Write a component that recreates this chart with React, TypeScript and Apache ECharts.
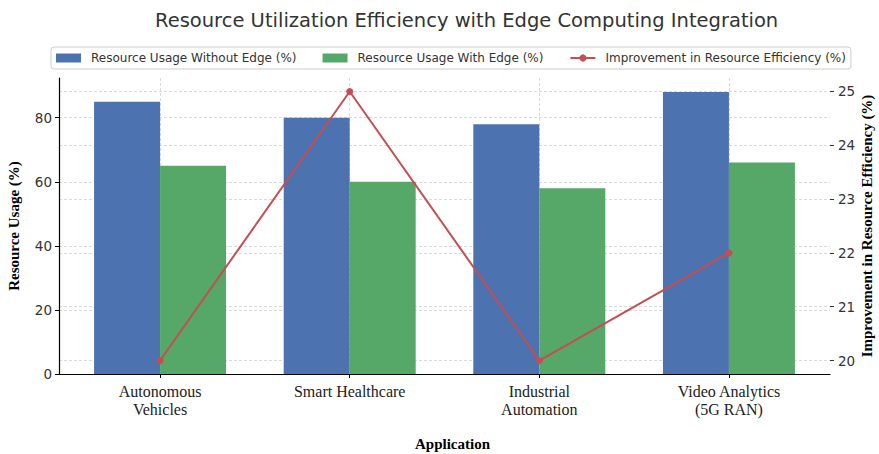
import React, { useEffect, useRef } from "react";
import * as echarts from "echarts";

const categories = ["Autonomous\nVehicles", "Smart Healthcare", "Industrial\nAutomation", "Video Analytics\n(5G RAN)"];
const usageWithoutEdge = [85, 80, 78, 88];
const usageWithEdge = [65, 60, 58, 66];
const improvement = [20, 25, 20, 22];
const leftTicks = [0, 20, 40, 60, 80];
const rightTicks = [20, 21, 22, 23, 24, 25];
const catIdx = [0, 1, 2, 3];

const SANS = "DejaVu Sans";
const SERIF = "Liberation Serif";

export default function App() {
  const ref = useRef<HTMLDivElement>(null);
  useEffect(() => {
    document.body.style.margin = "0";
    if (!ref.current) return;
    const chart = echarts.init(ref.current, null, { renderer: "svg" });
    const grid = { lineStyle: { color: "#cfcfcf", type: [3, 2] as any, width: 0.8 } };
    chart.setOption({
      animation: false,
      backgroundColor: "#ffffff",
      title: {
        text: "Resource Utilization Efficiency with Edge Computing Integration",
        left: 150,
        top: 5,
        textStyle: { fontFamily: SANS, fontSize: 19.5, fontWeight: "normal", color: "#333" },
      },
      legend: {
        left: 51,
        top: 47,
        itemWidth: 25,
        itemHeight: 9,
        itemGap: 26,
        padding: [5, 5],
        borderColor: "#cccccc",
        borderWidth: 1,
        borderRadius: 3,
        textStyle: { fontFamily: SANS, fontSize: 12, color: "#333", padding: [0, 0, 0, 5] },
        data: [
          { name: "Resource Usage Without Edge (%)", icon: "rect" },
          { name: "Resource Usage With Edge (%)", icon: "rect" },
          { name: "Improvement in Resource Efficiency (%)" },
        ],
      },
      grid: { left: 59, right: 49, top: 78, bottom: 80, containLabel: false, outerBoundsMode: "none" },
      xAxis: {
        type: "value",
        min: -0.533,
        max: 3.533,
        name: "Application",
        nameLocation: "middle",
        nameGap: 62,
        nameMoveOverlap: false,
        nameTextStyle: { fontFamily: SERIF, fontSize: 15, fontWeight: "bold", color: "#000", padding: [0, 0, 0, 16] },
        axisLine: { show: true, onZero: false, lineStyle: { color: "#000", width: 1.2 } },
        axisTick: { show: true, customValues: catIdx, length: 4, lineStyle: { color: "#000" } },
        axisLabel: {
          customValues: catIdx,
          formatter: (v: number) => categories[Math.round(v)],
          fontFamily: SERIF,
          fontSize: 16,
          lineHeight: 18,
          color: "#222",
          margin: 8,
        },
        splitLine: { show: true, ...grid },
      },
      yAxis: [
        {
          type: "value",
          min: 0,
          max: 92.4,
          name: "Resource Usage (%)",
          nameLocation: "middle",
          nameGap: 38,
          nameRotate: 90,
          nameMoveOverlap: false,
          nameTextStyle: { fontFamily: SERIF, fontSize: 15, fontWeight: "bold", color: "#000" },
          axisLine: { show: true, onZero: false, lineStyle: { color: "#000", width: 1.2 } },
          axisTick: { show: true, customValues: leftTicks, length: 4, lineStyle: { color: "#000" } },
          axisLabel: { customValues: leftTicks, fontFamily: SANS, fontSize: 13.5, color: "#333", margin: 7 },
          splitLine: { show: true, ...grid },
        },
        {
          type: "value",
          min: 19.75,
          max: 25.25,
          position: "right",
          name: "Improvement in Resource Efficiency (%)",
          nameLocation: "middle",
          nameGap: 29,
          nameRotate: 90,
          nameMoveOverlap: false,
          nameTextStyle: { fontFamily: SERIF, fontSize: 15, fontWeight: "bold", color: "#000" },
          axisLine: { show: false, onZero: false },
          axisTick: { show: true, customValues: rightTicks, length: 4, lineStyle: { color: "#333" } },
          axisLabel: { customValues: rightTicks, fontFamily: SANS, fontSize: 13.5, color: "#333", margin: 8 },
          splitLine: { show: true, ...grid },
        },
      ],
      series: [
        {
          name: "Resource Usage Without Edge (%)",
          type: "bar",
          xAxisIndex: 0,
          yAxisIndex: 0,
          barWidth: 66,
          barGap: "0%",
          itemStyle: { color: "#4c72b0" },
          data: usageWithoutEdge.map((v, i) => [i, v]),
        },
        {
          name: "Resource Usage With Edge (%)",
          type: "bar",
          xAxisIndex: 0,
          yAxisIndex: 0,
          barWidth: 66,
          barGap: "0%",
          itemStyle: { color: "#55a868" },
          data: usageWithEdge.map((v, i) => [i, v]),
        },
        {
          name: "Improvement in Resource Efficiency (%)",
          type: "line",
          xAxisIndex: 0,
          yAxisIndex: 1,
          symbol: "circle",
          symbolSize: 7,
          lineStyle: { color: "#c44e52", width: 2 },
          itemStyle: { color: "#c44e52" },
          data: improvement.map((v, i) => [i, v]),
          z: 5,
        },
      ],
    });
    return () => chart.dispose();
  }, []);
  return <div ref={ref} style={{ width: 879, height: 454 }} />;
}
